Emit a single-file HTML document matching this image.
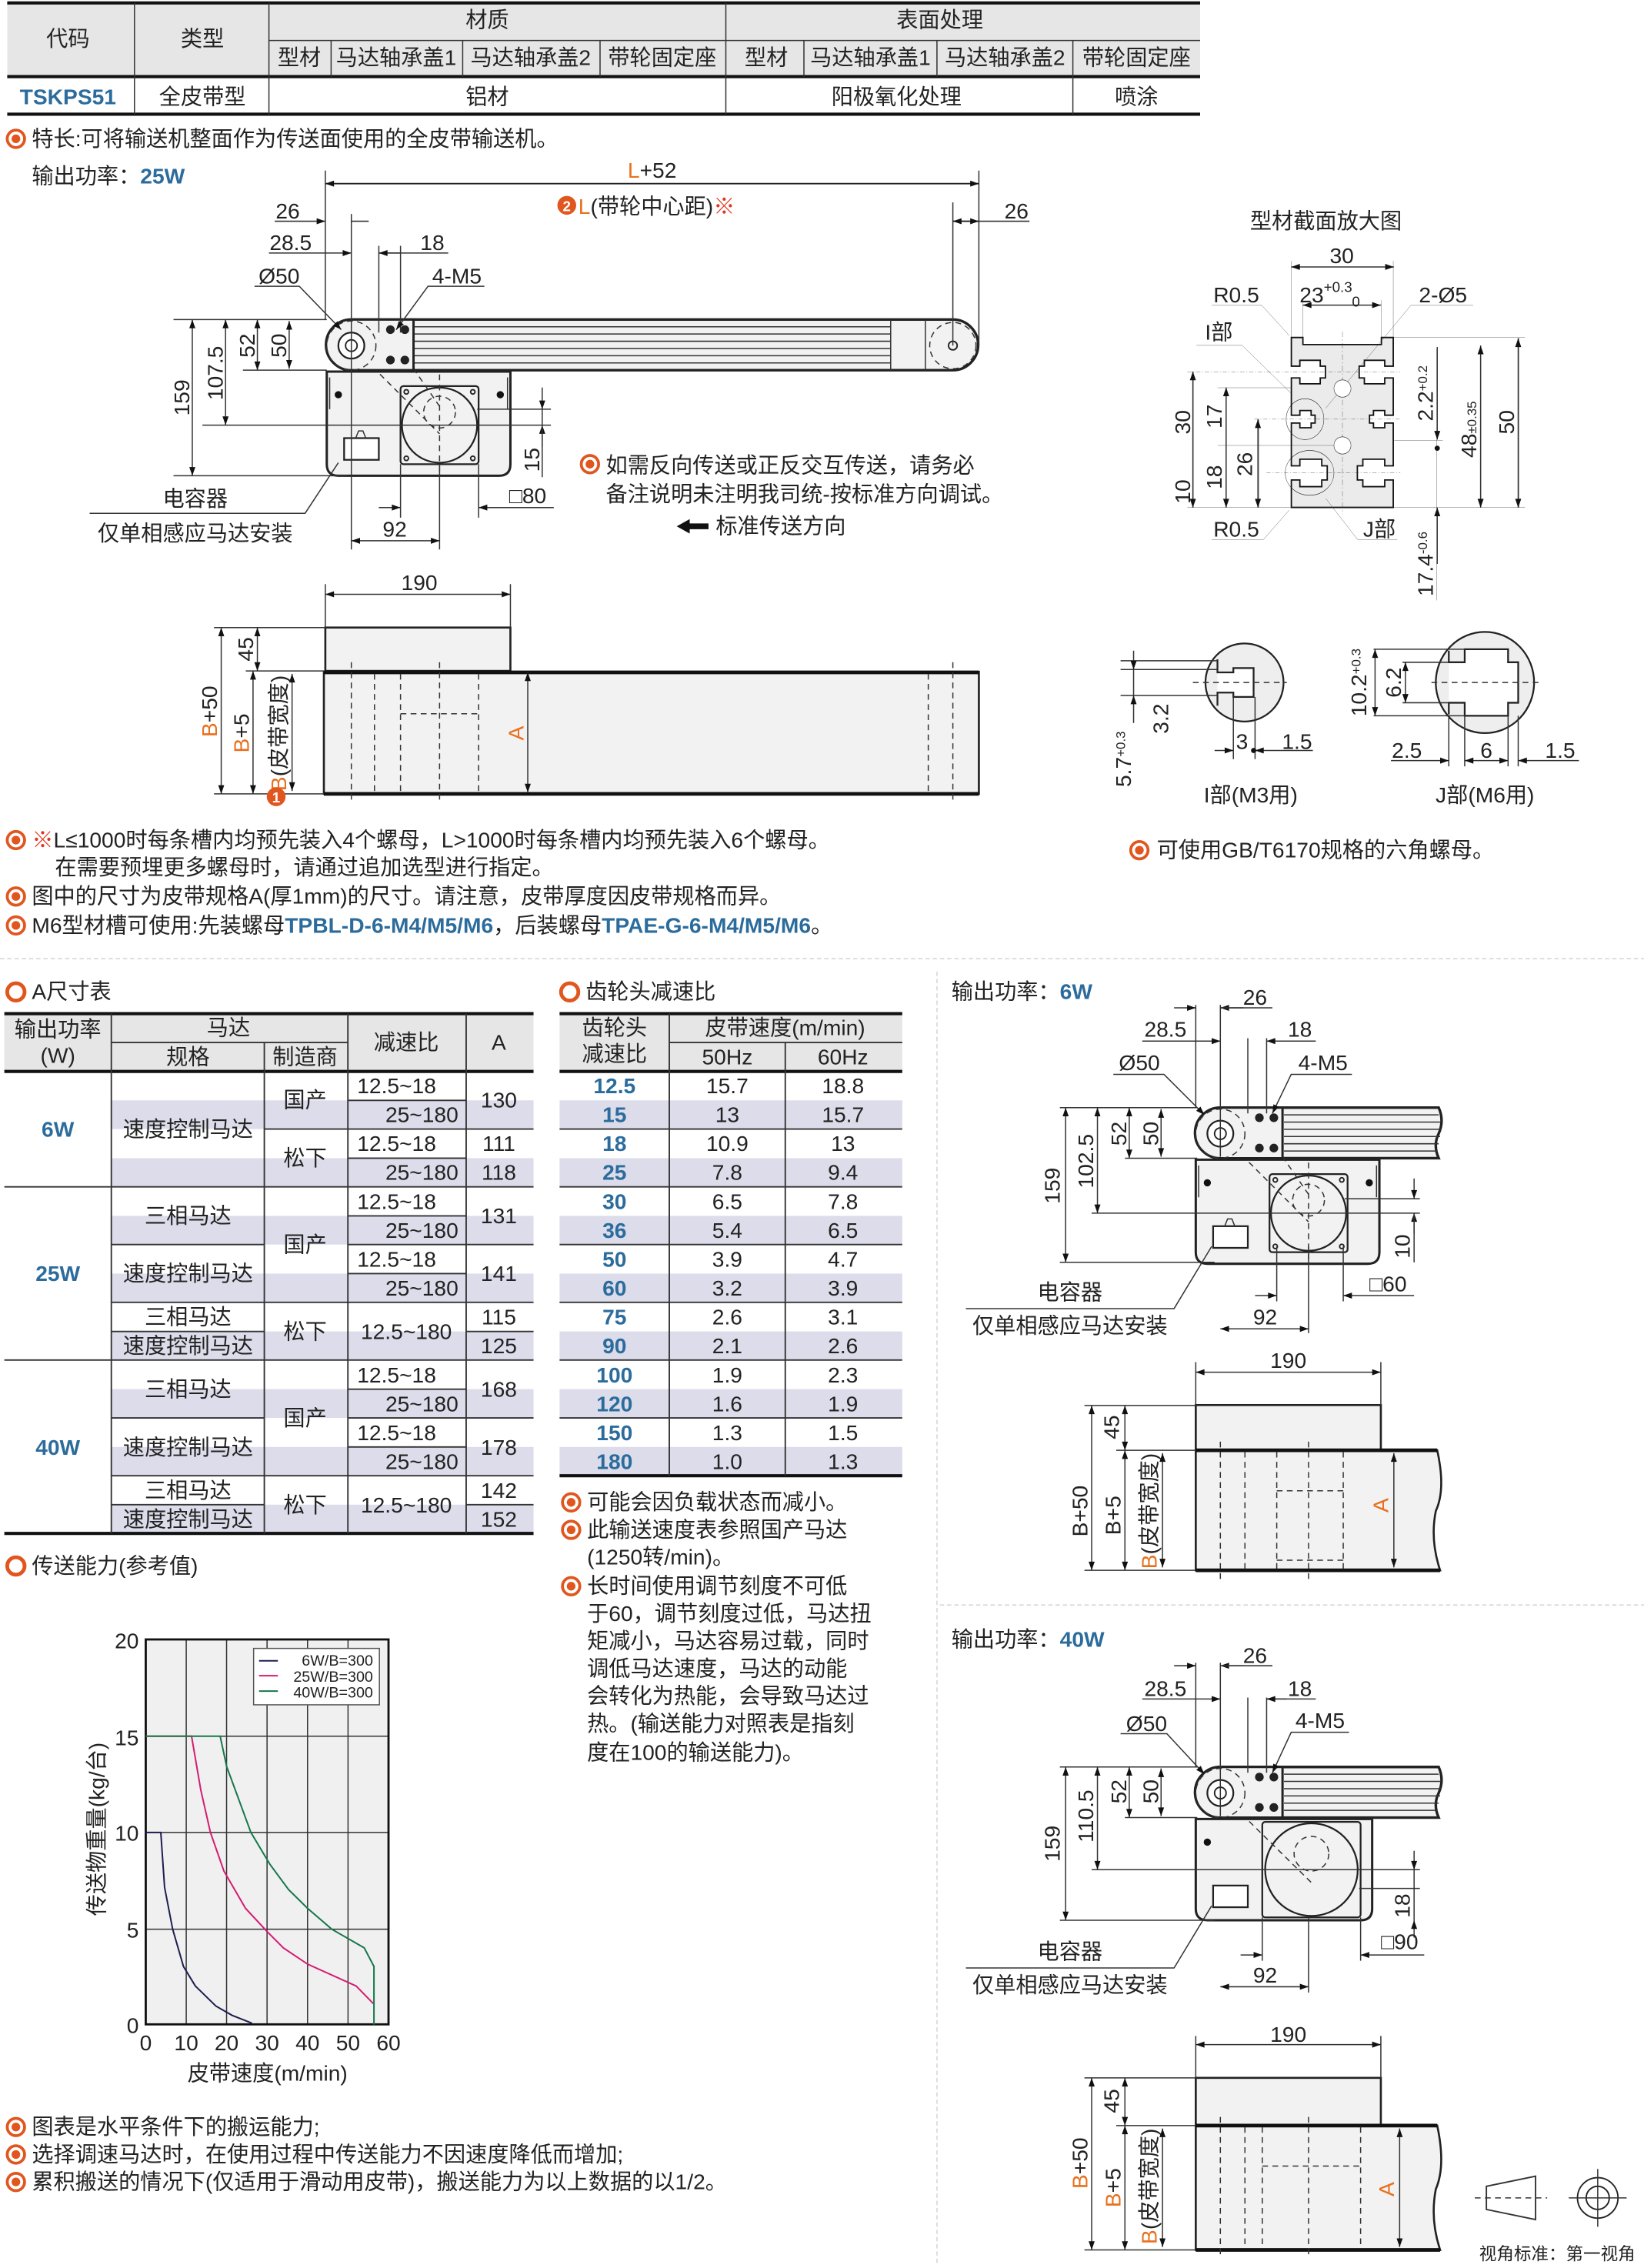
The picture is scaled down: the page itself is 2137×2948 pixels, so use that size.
<!DOCTYPE html>
<html><head><meta charset="utf-8"><style>
html,body{margin:0;padding:0;background:#fff}
svg{display:block}
text{font-family:"Liberation Sans","Noto Sans CJK SC",sans-serif;font-size:15px;fill:#222}
.b{fill:#2c6c9c;font-weight:bold}
.o{fill:#e8701e}
.c{text-anchor:middle}
.e{text-anchor:end}
.ln{stroke:#222;stroke-width:1;fill:none}
.tk{stroke:#111;stroke-width:2.2;fill:none}
.th{stroke:#333;stroke-width:0.8;fill:none}
.d{stroke:#333;stroke-width:0.8;stroke-dasharray:4 3;fill:none}
.ns{vector-effect:non-scaling-stroke}
</style></head><body>
<svg width="2137" height="2948" viewBox="0 0 1137 1568.5" preserveAspectRatio="none" xmlns="http://www.w3.org/2000/svg">
<defs>
<marker id="a" viewBox="0 0 10 10" refX="10" refY="5" markerWidth="9" markerHeight="6" orient="auto-start-reverse" markerUnits="userSpaceOnUse"><path d="M0,1.5L10,5L0,8.5z" fill="#111"/></marker>
<g id="bul"><circle r="6" fill="none" stroke="#e0561e" stroke-width="2"/><circle r="3" fill="#e0561e"/></g>
<g id="ring"><circle r="6" fill="none" stroke="#e0561e" stroke-width="2.6"/></g>
<g id="motor">
<path d="M0,36 L127,36 L127,100 Q127,108 119,108 L8,108 Q0,108 0,100 Z" fill="#f2f2f2" stroke="#222" stroke-width="1.6"/>
<line x1="2" y1="40" x2="2" y2="62" class="th"/><line x1="125" y1="40" x2="125" y2="62" class="th"/>
<circle cx="8" cy="52" r="2.5" fill="#111"/><circle cx="120" cy="52" r="2.5" fill="#111"/>
<rect x="51" y="46" width="54" height="54" rx="2" fill="#f2f2f2" stroke="#222" stroke-width="1.2"/>
<ellipse cx="78" cy="73" rx="26" ry="26" fill="#f2f2f2" stroke="#222" stroke-width="1.2"/>
<circle cx="78" cy="64" r="11" class="d"/>
<circle cx="55" cy="50" r="1.5" class="ln"/><circle cx="101" cy="50" r="1.5" class="ln"/><circle cx="55" cy="96" r="1.5" class="ln"/><circle cx="101" cy="96" r="1.5" class="ln"/>
<rect x="12" y="82" width="24" height="15" fill="#fff" stroke="#222" stroke-width="1.2"/>
<path d="M20,82 L22,77 L25,77 L27,82" class="th"/>
<line x1="17" y1="18" x2="78" y2="79" class="d"/><line x1="40" y1="5" x2="78" y2="60" class="d"/>
<line x1="78" y1="38" x2="78" y2="108" class="d"/>
</g>
<g id="head">
<path d="M17,0 L60,0 L60,35 L17,35 A17.5,17.5 0 0 1 17,0 Z" fill="#f2f2f2" stroke="#222" stroke-width="1.6"/>
<circle cx="17" cy="18" r="9" fill="#fff" stroke="#222" stroke-width="1.2"/><circle cx="17" cy="18" r="4" class="ln"/>
<circle cx="17" cy="18" r="17" class="d"/>
<circle cx="44" cy="7" r="3" fill="#222"/><circle cx="54" cy="7" r="3" fill="#222"/><circle cx="44" cy="28" r="3" fill="#222"/><circle cx="54" cy="28" r="3" fill="#222"/>
</g>
</defs>

<!-- TOP TABLE -->
<rect x="5" y="2" width="825" height="51" fill="#e6e6e6"/>
<line x1="5" y1="2" x2="830" y2="2" class="tk"/>
<line x1="5" y1="53" x2="830" y2="53" class="tk"/>
<line x1="5" y1="79" x2="830" y2="79" class="tk"/>
<line x1="186" y1="28" x2="830" y2="28" class="th"/>
<g class="th"><line x1="93" y1="2" x2="93" y2="79"/><line x1="186" y1="2" x2="186" y2="79"/><line x1="502" y1="2" x2="502" y2="79"/><line x1="742" y1="28" x2="742" y2="79"/>
<line x1="229" y1="28" x2="229" y2="53"/><line x1="320" y1="28" x2="320" y2="53"/><line x1="415" y1="28" x2="415" y2="53"/><line x1="556" y1="28" x2="556" y2="53"/><line x1="648" y1="28" x2="648" y2="53"/></g>
<text x="47" y="32" class="c">代码</text><text x="140" y="32" class="c">类型</text>
<text x="337" y="19" class="c">材质</text><text x="650" y="19" class="c">表面处理</text>
<text x="207" y="45" class="c">型材</text><text x="274" y="45" class="c">马达轴承盖1</text><text x="367" y="45" class="c">马达轴承盖2</text><text x="458" y="45" class="c">带轮固定座</text>
<text x="530" y="45" class="c">型材</text><text x="602" y="45" class="c">马达轴承盖1</text><text x="695" y="45" class="c">马达轴承盖2</text><text x="786" y="45" class="c">带轮固定座</text>
<text x="47" y="72" class="c b">TSKPS51</text><text x="140" y="72" class="c">全皮带型</text><text x="337" y="72" class="c">铝材</text><text x="620" y="72" class="c">阳极氧化处理</text><text x="786" y="72" class="c">喷涂</text>

<use href="#bul" x="11" y="96"/><text x="22" y="101">特长:可将输送机整面作为传送面使用的全皮带输送机。</text>
<text x="22" y="127">输出功率：<tspan class="b">25W</tspan></text>

<!-- 25W front view -->
<path d="M243,221 L659,221 A17.5,17.5 0 0 1 659,256 L243,256 A17.5,17.5 0 0 1 243,221 Z" fill="#f2f2f2" stroke="#222" stroke-width="1.8"/>
<g class="th"><line x1="286" y1="226" x2="616" y2="226"/><line x1="286" y1="231" x2="616" y2="231"/><line x1="286" y1="236" x2="616" y2="236"/><line x1="286" y1="241" x2="616" y2="241"/><line x1="286" y1="246" x2="616" y2="246"/><line x1="286" y1="251" x2="616" y2="251"/>
<line x1="616" y1="221" x2="616" y2="256"/><line x1="640" y1="221" x2="640" y2="256"/><line x1="286" y1="221" x2="286" y2="256"/></g>
<circle cx="659" cy="239" r="16" class="d"/><circle cx="659" cy="239" r="3" class="ln"/>
<use href="#motor" x="226" y="221"/><use href="#head" x="226" y="221"/>
<line x1="225" y1="127" x2="677" y2="127" class="ln" marker-start="url(#a)" marker-end="url(#a)"/>
<text x="451" y="123" class="c"><tspan class="o">L</tspan>+52</text>
<circle cx="392" cy="142" r="6.5" fill="#e0561e"/><text x="392" y="146" class="c" style="font-size:10px;fill:#fff;font-weight:bold">2</text>
<text x="400" y="148"><tspan class="o">L</tspan>(带轮中心距)<tspan style="fill:#e0361e">※</tspan></text>
<g class="th"><line x1="225" y1="118" x2="225" y2="221"/><line x1="677" y1="118" x2="677" y2="239"/><line x1="659" y1="140" x2="659" y2="239"/><line x1="243" y1="148" x2="243" y2="380"/><line x1="262" y1="170" x2="262" y2="230"/><line x1="277" y1="170" x2="277" y2="230"/></g>
<line x1="659" y1="153" x2="677" y2="153" class="ln" marker-start="url(#a)" marker-end="url(#a)"/><line x1="677" y1="153" x2="712" y2="153" class="th"/>
<text x="703" y="151" class="c">26</text>
<line x1="190" y1="153" x2="225" y2="153" class="th" marker-end="url(#a)"/><line x1="243" y1="153" x2="255" y2="153" class="th"/><text x="199" y="151" class="c">26</text>
<line x1="186" y1="175" x2="243" y2="175" class="th" marker-end="url(#a)"/><text x="201" y="173" class="c">28.5</text>
<line x1="262" y1="175" x2="310" y2="175" class="th"/><path d="M262,175 L277,175" class="th" marker-start="url(#a)"/><text x="299" y="173" class="c">18</text>
<text x="193" y="196" class="c">Ø50</text><path d="M176,198 L207,198 L236,228" class="th" marker-end="url(#a)"/>
<text x="316" y="196" class="c">4-M5</text><path d="M335,198 L296,198 L274,228" class="th" marker-end="url(#a)"/>
<g class="th"><line x1="120" y1="221" x2="226" y2="221"/><line x1="168" y1="256" x2="226" y2="256"/><line x1="140" y1="294" x2="381" y2="294"/><line x1="120" y1="329" x2="240" y2="329"/><line x1="330" y1="283" x2="381" y2="283"/></g>
<line x1="133" y1="221" x2="133" y2="329" class="th" marker-start="url(#a)" marker-end="url(#a)"/><text transform="translate(131,275) rotate(-90)" class="c">159</text>
<line x1="156" y1="221" x2="156" y2="294" class="th" marker-start="url(#a)" marker-end="url(#a)"/><text transform="translate(154,258) rotate(-90)" class="c">107.5</text>
<line x1="178" y1="221" x2="178" y2="256" class="th" marker-start="url(#a)" marker-end="url(#a)"/><text transform="translate(176,239) rotate(-90)" class="c">52</text>
<line x1="200" y1="222" x2="200" y2="255" class="th" marker-start="url(#a)" marker-end="url(#a)"/><text transform="translate(198,239) rotate(-90)" class="c">50</text>
<line x1="375" y1="268" x2="375" y2="283" class="th" marker-end="url(#a)"/><line x1="375" y1="309" x2="375" y2="294" class="th" marker-end="url(#a)"/><line x1="375" y1="283" x2="375" y2="330" class="th"/>
<text transform="translate(373,318) rotate(-90)" class="c">15</text>
<g class="th"><line x1="277" y1="321" x2="277" y2="358"/><line x1="331" y1="321" x2="331" y2="358"/><line x1="304" y1="321" x2="304" y2="380"/></g>
<line x1="262" y1="351" x2="277" y2="351" class="th" marker-end="url(#a)"/><line x1="383" y1="351" x2="331" y2="351" class="th" marker-end="url(#a)"/>
<text x="365" y="348" class="c">□80</text>
<line x1="243" y1="374" x2="304" y2="374" class="th" marker-start="url(#a)" marker-end="url(#a)"/><text x="273" y="371" class="c">92</text>
<text x="135" y="350" class="c">电容器</text><text x="135" y="374" class="c">仅单相感应马达安装</text>
<path d="M62,355 L211,355 L234,320" class="th"/>
<use href="#bul" x="408" y="321"/><text x="419" y="327">如需反向传送或正反交互传送，请务必</text>
<text x="419" y="347">备注说明未注明我司统-按标准方向调试。</text>
<path d="M468,364 L477,359 L477,362 L490,362 L490,366 L477,366 L477,369 Z" fill="#111"/><text x="495" y="369">标准传送方向</text>

<!-- 25W side view -->
<rect x="225" y="434" width="128" height="30" fill="#f2f2f2" stroke="#222" stroke-width="1.4"/>
<rect x="224" y="464.6" width="453" height="84.4" fill="#f2f2f2" stroke="#222" stroke-width="1.4"/>
<line x1="224" y1="465" x2="677" y2="465" stroke="#111" stroke-width="2.5"/><line x1="224" y1="549" x2="677" y2="549" stroke="#111" stroke-width="2.5"/>
<g class="d"><line x1="243" y1="458" x2="243" y2="555"/><line x1="259" y1="466" x2="259" y2="548"/><line x1="277" y1="466" x2="277" y2="548"/><line x1="304" y1="458" x2="304" y2="555"/><line x1="331" y1="466" x2="331" y2="548"/><line x1="642" y1="466" x2="642" y2="548"/><line x1="659" y1="458" x2="659" y2="555"/><line x1="277" y1="493.6" x2="331" y2="493.6"/></g>
<g class="th"><line x1="225" y1="404" x2="225" y2="434"/><line x1="353" y1="404" x2="353" y2="434"/><line x1="148" y1="434" x2="225" y2="434"/><line x1="170" y1="464" x2="224" y2="464"/><line x1="148" y1="549" x2="224" y2="549"/></g>
<line x1="225" y1="411" x2="353" y2="411" class="th" marker-start="url(#a)" marker-end="url(#a)"/><text x="290" y="408" class="c">190</text>
<line x1="178" y1="434" x2="178" y2="464" class="th" marker-start="url(#a)" marker-end="url(#a)"/><text transform="translate(175,449) rotate(-90)" class="c">45</text>
<line x1="153" y1="434" x2="153" y2="549" class="th" marker-start="url(#a)" marker-end="url(#a)"/><text transform="translate(150,492) rotate(-90)" class="c"><tspan class="o">B</tspan>+50</text>
<line x1="175" y1="464" x2="175" y2="549" class="th" marker-start="url(#a)" marker-end="url(#a)"/><text transform="translate(172,507) rotate(-90)" class="c"><tspan class="o">B</tspan>+5</text>
<line x1="202" y1="466" x2="202" y2="547" class="th" marker-start="url(#a)" marker-end="url(#a)"/><text transform="translate(198,507) rotate(-90)" class="c"><tspan class="o">B</tspan>(皮带宽度)</text>
<circle cx="191" cy="551" r="6.5" fill="#e0561e"/><text x="191" y="555" class="c" style="font-size:10px;fill:#fff;font-weight:bold">1</text>
<line x1="365" y1="465" x2="365" y2="548" class="th" marker-start="url(#a)" marker-end="url(#a)"/><text transform="translate(362,507) rotate(-90)" class="c o">A</text>

<!-- Profile section -->
<text x="917" y="158" class="c">型材截面放大图</text>
<g transform="translate(798,133) scale(0.2104,0.2714)">
<path class="ns" fill="#ebebeb" stroke="#111" stroke-width="1.8" d="M452,370 L490,370 L490,388 L748,388 L748,370 L787,370 L787,443 L759,443 L759,428 L692,428 L692,443 L675,443 L675,473 L692,473 L692,488 L759,488 L759,473 L787,473 L787,568 L759,568 L759,556 L722,556 L722,568 L709,568 L709,588 L722,588 L722,600 L759,600 L759,588 L787,588 L787,697 L759,697 L759,680 L687,680 L687,697 L669,697 L669,733 L687,733 L687,750 L759,750 L759,733 L787,733 L787,803 L452,803 L452,733 L480,733 L480,750 L552,750 L552,733 L570,733 L570,697 L552,697 L552,680 L480,680 L480,697 L452,697 L452,588 L480,588 L480,600 L517,600 L517,588 L530,588 L530,568 L517,568 L517,556 L480,556 L480,568 L452,568 L452,473 L480,473 L480,488 L547,488 L547,473 L564,473 L564,443 L547,443 L547,428 L480,428 L480,443 L452,443 Z"/>
<g class="ns" stroke="#333" stroke-width="0.8" fill="none">
<line x1="620" y1="355" x2="620" y2="820" stroke-dasharray="14 6 3 6"/>
<line x1="110" y1="458" x2="810" y2="458" stroke-dasharray="14 6 3 6"/><line x1="330" y1="578" x2="810" y2="578" stroke-dasharray="14 6 3 6"/><line x1="370" y1="715" x2="810" y2="715" stroke-dasharray="14 6 3 6"/>
<line x1="452" y1="175" x2="452" y2="370"/><line x1="787" y1="175" x2="787" y2="370"/><line x1="490" y1="275" x2="490" y2="370"/><line x1="748" y1="275" x2="748" y2="370"/>
<line x1="110" y1="803" x2="1220" y2="803"/><line x1="787" y1="370" x2="1220" y2="370"/><line x1="210" y1="498" x2="452" y2="498"/><line x1="210" y1="645" x2="600" y2="645"/><line x1="790" y1="632" x2="950" y2="632"/>
<line x1="1200" y1="370" x2="1200" y2="803"/><line x1="1075" y1="390" x2="1075" y2="803"/><line x1="930" y1="400" x2="930" y2="1040"/>
<line x1="130" y1="458" x2="130" y2="803"/><line x1="237" y1="498" x2="237" y2="803"/><line x1="345" y1="578" x2="345" y2="803"/>
<path d="M190,288 L355,288 L445,365"/><path d="M140,390 L290,390 L455,515"/><path d="M1050,288 L845,288 L565,550"/><path d="M190,885 L360,885 L445,810"/><path d="M800,885 L670,885 L565,780"/>
<line x1="452" y1="190" x2="787" y2="190"/><line x1="490" y1="287" x2="748" y2="287"/>
</g>
<g class="ns" stroke="#111" stroke-width="1.2" fill="none">
<ellipse cx="497" cy="578" rx="62" ry="52"/><ellipse cx="512" cy="715" rx="80" ry="57"/>
<ellipse cx="620" cy="500" rx="28" ry="22" fill="#fff"/><ellipse cx="620" cy="645" rx="28" ry="22" fill="#fff"/>
</g>
</g>
<g class="th">
<path d="M893,184.6 L964,184.6" marker-start="url(#a)" marker-end="url(#a)"/>
<path d="M901,211 L955,211" marker-start="url(#a)" marker-end="url(#a)"/>
<path d="M1050,234 L1050,351" marker-start="url(#a)" marker-end="url(#a)"/>
<path d="M1024,239 L1024,351" marker-start="url(#a)" marker-end="url(#a)"/>
<path d="M994,240 L994,304" marker-end="url(#a)"/><path d="M994,390 L994,351" marker-end="url(#a)"/>
<path d="M825,257 L825,351" marker-start="url(#a)" marker-end="url(#a)"/>
<path d="M848,268 L848,351" marker-start="url(#a)" marker-end="url(#a)"/>
<path d="M870,290 L870,351" marker-start="url(#a)" marker-end="url(#a)"/>
</g>
<circle cx="994" cy="310" r="1.8" fill="#111"/>
<text x="928" y="182" class="c">30</text>
<text x="917" y="209" class="c">23<tspan dy="-7" style="font-size:10px">+0.3</tspan></text><text x="935" y="212" style="font-size:10px">0</text>
<text x="855" y="209" class="c">R0.5</text><text x="855" y="371" class="c">R0.5</text>
<text x="843" y="235" class="c">I部</text><text x="954" y="371" class="c">J部</text>
<text x="998" y="209" class="c">2-Ø5</text>
<text transform="translate(823,292) rotate(-90)" class="c">30</text>
<text transform="translate(845,288) rotate(-90)" class="c">17</text>
<text transform="translate(866,321) rotate(-90)" class="c">26</text>
<text transform="translate(845,330) rotate(-90)" class="c">18</text>
<text transform="translate(823,340) rotate(-90)" class="c">10</text>
<text transform="translate(991,272) rotate(-90)" class="c">2.2<tspan dy="-4" style="font-size:9px">+0.2</tspan></text>
<text transform="translate(1021,297) rotate(-90)" class="c">48<tspan style="font-size:9px">±0.35</tspan></text>
<text transform="translate(1047,292) rotate(-90)" class="c">50</text>
<text transform="translate(991,390) rotate(-90)" class="c">17.4<tspan dy="-4" style="font-size:9px">-0.6</tspan></text>

<!-- I/J details -->
<ellipse cx="860.7" cy="472" rx="27" ry="27" fill="#eeeeee" stroke="#222" stroke-width="1.2"/>
<path d="M842,456 L842,465 L853,465 L853,462 L867,462 L867,482 L853,482 L853,479 L842,479 L842,488" fill="#fff" stroke="#222" stroke-width="1.2"/>
<line x1="825" y1="472" x2="890" y2="472" class="d"/>
<g class="th"><line x1="775" y1="457" x2="842" y2="457"/><line x1="775" y1="463" x2="842" y2="463"/><line x1="775" y1="481" x2="842" y2="481"/><line x1="784" y1="450" x2="784" y2="463" marker-end="url(#a)"/><line x1="784" y1="500" x2="784" y2="481" marker-end="url(#a)"/><line x1="784" y1="463" x2="784" y2="481"/>
<line x1="853" y1="482" x2="853" y2="525"/><line x1="868" y1="482" x2="868" y2="525"/><line x1="840" y1="519" x2="853" y2="519" marker-end="url(#a)"/><line x1="908" y1="519" x2="868" y2="519" marker-end="url(#a)"/></g>
<circle cx="867" cy="519" r="1.8" fill="#111"/>
<text transform="translate(782,525) rotate(-90)" class="c">5.7<tspan dy="-4" style="font-size:9px">+0.3</tspan></text>
<text transform="translate(808,497) rotate(-90)" class="c">3.2</text>
<text x="859" y="518" class="c">3</text><text x="897" y="518" class="c">1.5</text>
<text x="865" y="555" class="c">I部(M3用)</text>
<ellipse cx="1027" cy="472" rx="34" ry="35" fill="#eeeeee" stroke="#222" stroke-width="1.2"/>
<path d="M1002,450 L1002,458 L1013,458 L1013,449 L1043,449 L1043,458 L1050,458 L1050,486 L1043,486 L1043,495 L1013,495 L1013,486 L1002,486 L1002,494" fill="#fff" stroke="#222" stroke-width="1.2"/>
<line x1="990" y1="472" x2="1066" y2="472" class="d"/>
<g class="th"><line x1="950" y1="449" x2="1013" y2="449"/><line x1="950" y1="495" x2="1013" y2="495"/><line x1="970" y1="458" x2="1002" y2="458"/><line x1="970" y1="486" x2="1002" y2="486"/>
<line x1="951" y1="449" x2="951" y2="495" marker-start="url(#a)" marker-end="url(#a)"/><line x1="972" y1="458" x2="972" y2="486" marker-start="url(#a)" marker-end="url(#a)"/>
<line x1="1002" y1="495" x2="1002" y2="530"/><line x1="1013" y1="495" x2="1013" y2="530"/><line x1="1043" y1="495" x2="1043" y2="530"/><line x1="1050" y1="495" x2="1050" y2="530"/>
<line x1="962" y1="526" x2="1002" y2="526" marker-end="url(#a)"/><line x1="1013" y1="526" x2="1043" y2="526" marker-start="url(#a)" marker-end="url(#a)"/><line x1="1092" y1="526" x2="1050" y2="526" marker-end="url(#a)"/></g>
<text transform="translate(945,472) rotate(-90)" class="c">10.2<tspan dy="-4" style="font-size:9px">+0.3</tspan></text>
<text transform="translate(969,472) rotate(-90)" class="c">6.2</text>
<text x="973" y="524" class="c">2.5</text><text x="1028" y="524" class="c">6</text><text x="1079" y="524" class="c">1.5</text>
<text x="1027" y="555" class="c">J部(M6用)</text>

<!-- notes -->
<use href="#bul" x="11" y="581"/><text x="22" y="586"><tspan style="fill:#e0361e">※</tspan>L≤1000时每条槽内均预先装入4个螺母，L&gt;1000时每条槽内均预先装入6个螺母。</text>
<text x="38" y="605">在需要预埋更多螺母时，请通过追加选型进行指定。</text>
<use href="#bul" x="11" y="620"/><text x="22" y="625">图中的尺寸为皮带规格A(厚1mm)的尺寸。请注意，皮带厚度因皮带规格而异。</text>
<use href="#bul" x="11" y="640"/><text x="22" y="645">M6型材槽可使用:先装螺母<tspan class="b">TPBL-D-6-M4/M5/M6</tspan>，后装螺母<tspan class="b">TPAE-G-6-M4/M5/M6</tspan>。</text>
<use href="#bul" x="788" y="588"/><text x="800" y="593">可使用GB/T6170规格的六角螺母。</text>

<line x1="0" y1="663" x2="1137" y2="663" stroke="#ddd" stroke-width="1" stroke-dasharray="3 2"/>
<line x1="648" y1="672" x2="648" y2="1565" stroke="#ddd" stroke-width="1" stroke-dasharray="3 2"/>
<line x1="650" y1="1110" x2="1137" y2="1110" stroke="#ddd" stroke-width="1" stroke-dasharray="3 2"/>

<!-- A table -->
<use href="#ring" x="11" y="686"/><text x="22" y="691">A尺寸表</text>
<use href="#ring" x="394" y="686"/><text x="405" y="691">齿轮头减速比</text>
<rect x="3" y="701" width="366" height="40" fill="#e6e6e6"/>
<rect x="387" y="701" width="237" height="40" fill="#e6e6e6"/>
<g fill="#dcdcea">
<rect x="77" y="761" width="292" height="19.8"/><rect x="77" y="801" width="292" height="19.8"/><rect x="77" y="840.9" width="292" height="19.8"/><rect x="77" y="880.8" width="292" height="19.9"/><rect x="77" y="920.8" width="292" height="19.8"/><rect x="77" y="960.7" width="292" height="19.9"/><rect x="77" y="1000.7" width="292" height="19.9"/><rect x="77" y="1040.6" width="292" height="19.9"/>
<rect x="387" y="761" width="237" height="19.8"/><rect x="387" y="801" width="237" height="19.8"/><rect x="387" y="840.9" width="237" height="19.8"/><rect x="387" y="880.8" width="237" height="19.9"/><rect x="387" y="920.8" width="237" height="19.8"/><rect x="387" y="960.7" width="237" height="19.9"/><rect x="387" y="1000.7" width="237" height="19.9"/>
</g>
<g class="tk"><line x1="3" y1="701" x2="369" y2="701"/><line x1="3" y1="741" x2="369" y2="741"/><line x1="3" y1="1060.5" x2="369" y2="1060.5"/>
<line x1="387" y1="701" x2="624" y2="701"/><line x1="387" y1="741" x2="624" y2="741"/><line x1="387" y1="1020.6" x2="624" y2="1020.6"/></g>
<g stroke="#333" stroke-width="1" fill="none">
<line x1="3" y1="820.8" x2="369" y2="820.8"/><line x1="3" y1="940.6" x2="369" y2="940.6"/>
<line x1="77" y1="721" x2="240.6" y2="721"/><line x1="462.9" y1="721" x2="624" y2="721"/>
<line x1="77" y1="701" x2="77" y2="1060.5"/><line x1="182.8" y1="721" x2="182.8" y2="1060.5"/><line x1="240.6" y1="701" x2="240.6" y2="1060.5"/><line x1="322.4" y1="701" x2="322.4" y2="1060.5"/>
<line x1="462.9" y1="701" x2="462.9" y2="1020.6"/><line x1="543.1" y1="721" x2="543.1" y2="1020.6"/>
<path d="M240.6,761H322.4M240.6,780.8H369M240.6,801H322.4M240.6,840.9H322.4M240.6,860.7H369M240.6,880.8H322.4M240.6,900.7H369M322.4,920.8H369M240.6,960.7H322.4M240.6,980.6H369M240.6,1000.7H322.4M240.6,1020.6H369M322.4,1040.6H369"/>
<path d="M182.8,780.8H240.6M77,860.7H182.8M77,900.7H240.6M77,920.8H182.8M77,980.6H182.8M77,1020.6H240.6M77,1040.6H182.8"/>
<path d="M387,780.8H624M387,820.8H624M387,860.7H624M387,900.7H624M387,940.6H624M387,980.6H624"/>
</g>
<text x="40" y="717" class="c">输出功率</text><text x="40" y="735" class="c">(W)</text>
<text x="158" y="716" class="c">马达</text><text x="130" y="736" class="c">规格</text><text x="211" y="736" class="c">制造商</text>
<text x="281" y="726" class="c">减速比</text><text x="345" y="726" class="c">A</text>
<text x="40" y="786" class="c b">6W</text><text x="40" y="886" class="c b">25W</text><text x="40" y="1006" class="c b">40W</text>
<text x="130" y="786" class="c">速度控制马达</text>
<text x="130" y="846" class="c">三相马达</text><text x="130" y="886" class="c">速度控制马达</text><text x="130" y="916" class="c">三相马达</text><text x="130" y="936" class="c">速度控制马达</text>
<text x="130" y="966" class="c">三相马达</text><text x="130" y="1006" class="c">速度控制马达</text><text x="130" y="1036" class="c">三相马达</text><text x="130" y="1056" class="c">速度控制马达</text>
<text x="211" y="766" class="c">国产</text><text x="211" y="806" class="c">松下</text><text x="211" y="866" class="c">国产</text><text x="211" y="926" class="c">松下</text><text x="211" y="986" class="c">国产</text><text x="211" y="1046" class="c">松下</text>
<text x="247" y="756">12.5~18</text><text x="317" y="776" class="e">25~180</text><text x="247" y="796">12.5~18</text><text x="317" y="816" class="e">25~180</text>
<text x="247" y="836">12.5~18</text><text x="317" y="856" class="e">25~180</text><text x="247" y="876">12.5~18</text><text x="317" y="896" class="e">25~180</text><text x="281" y="926" class="c">12.5~180</text>
<text x="247" y="956">12.5~18</text><text x="317" y="976" class="e">25~180</text><text x="247" y="996">12.5~18</text><text x="317" y="1016" class="e">25~180</text><text x="281" y="1046" class="c">12.5~180</text>
<text x="345" y="766" class="c">130</text><text x="345" y="796" class="c">111</text><text x="345" y="816" class="c">118</text>
<text x="345" y="846" class="c">131</text><text x="345" y="886" class="c">141</text><text x="345" y="916" class="c">115</text><text x="345" y="936" class="c">125</text>
<text x="345" y="966" class="c">168</text><text x="345" y="1006" class="c">178</text><text x="345" y="1036" class="c">142</text><text x="345" y="1056" class="c">152</text>

<!-- gear table -->
<text x="425" y="716" class="c">齿轮头</text><text x="425" y="734" class="c">减速比</text>
<text x="543" y="716" class="c">皮带速度(m/min)</text><text x="503" y="736" class="c">50Hz</text><text x="583" y="736" class="c">60Hz</text>
<text x="425" y="756" class="c b">12.5</text><text x="503" y="756" class="c">15.7</text><text x="583" y="756" class="c">18.8</text>
<text x="425" y="776" class="c b">15</text><text x="503" y="776" class="c">13</text><text x="583" y="776" class="c">15.7</text>
<text x="425" y="796" class="c b">18</text><text x="503" y="796" class="c">10.9</text><text x="583" y="796" class="c">13</text>
<text x="425" y="816" class="c b">25</text><text x="503" y="816" class="c">7.8</text><text x="583" y="816" class="c">9.4</text>
<text x="425" y="836" class="c b">30</text><text x="503" y="836" class="c">6.5</text><text x="583" y="836" class="c">7.8</text>
<text x="425" y="856" class="c b">36</text><text x="503" y="856" class="c">5.4</text><text x="583" y="856" class="c">6.5</text>
<text x="425" y="876" class="c b">50</text><text x="503" y="876" class="c">3.9</text><text x="583" y="876" class="c">4.7</text>
<text x="425" y="896" class="c b">60</text><text x="503" y="896" class="c">3.2</text><text x="583" y="896" class="c">3.9</text>
<text x="425" y="916" class="c b">75</text><text x="503" y="916" class="c">2.6</text><text x="583" y="916" class="c">3.1</text>
<text x="425" y="936" class="c b">90</text><text x="503" y="936" class="c">2.1</text><text x="583" y="936" class="c">2.6</text>
<text x="425" y="956" class="c b">100</text><text x="503" y="956" class="c">1.9</text><text x="583" y="956" class="c">2.3</text>
<text x="425" y="976" class="c b">120</text><text x="503" y="976" class="c">1.6</text><text x="583" y="976" class="c">1.9</text>
<text x="425" y="996" class="c b">150</text><text x="503" y="996" class="c">1.3</text><text x="583" y="996" class="c">1.5</text>
<text x="425" y="1016" class="c b">180</text><text x="503" y="1016" class="c">1.0</text><text x="583" y="1016" class="c">1.3</text>
<use href="#bul" x="395" y="1039"/><text x="406" y="1044">可能会因负载状态而减小。</text>
<use href="#bul" x="395" y="1058"/><text x="406" y="1063">此输送速度表参照国产马达</text>
<text x="406" y="1082">(1250转/min)。</text>
<use href="#bul" x="395" y="1097"/><text x="406" y="1102">长时间使用调节刻度不可低</text>
<text x="406" y="1121">于60，调节刻度过低，马达扭</text>
<text x="406" y="1140">矩减小，马达容易过载，同时</text>
<text x="406" y="1159">调低马达速度，马达的动能</text>
<text x="406" y="1178">会转化为热能，会导致马达过</text>
<text x="406" y="1197">热。(输送能力对照表是指刻</text>
<text x="406" y="1217">度在100的输送能力)。</text>

<!-- chart -->
<use href="#ring" x="11" y="1083"/><text x="22" y="1088">传送能力(参考值)</text>
<rect x="100.8" y="1133.8" width="167.9" height="266.2" fill="#f0f0f0"/>
<g stroke="#333" stroke-width="0.8"><line x1="128.8" y1="1134" x2="128.8" y2="1400"/><line x1="156.7" y1="1134" x2="156.7" y2="1400"/><line x1="184.7" y1="1134" x2="184.7" y2="1400"/><line x1="212.7" y1="1134" x2="212.7" y2="1400"/><line x1="240.7" y1="1134" x2="240.7" y2="1400"/>
<line x1="101" y1="1200.7" x2="268.7" y2="1200.7"/><line x1="101" y1="1267.3" x2="268.7" y2="1267.3"/><line x1="101" y1="1334.2" x2="268.7" y2="1334.2"/></g>
<rect x="100.8" y="1133.8" width="167.9" height="266.2" fill="none" stroke="#111" stroke-width="1.5"/>
<rect x="175.4" y="1140" width="87" height="39" fill="#fff" stroke="#555" stroke-width="0.8"/>
<g transform="translate(0,1064) scale(0.3732,0.3217)" fill="none" stroke-width="2">
<path class="ns" stroke="#1e1e50" d="M270,632 L298,632 L305,750 L320,840 L340,920 L362,962 L400,1005 L430,1025 L467,1042"/>
<path class="ns" stroke="#d41c72" d="M270,425 L355,425 L372,540 L390,632 L415,715 L455,795 L495,845 L525,880 L570,915 L660,962 L692,1000"/>
<path class="ns" stroke="#16784a" d="M270,425 L408,425 L420,490 L465,632 L500,700 L535,755 L570,795 L615,840 L675,880 L693,920 L693,1045"/>
<path class="ns" stroke="#1e1e50" d="M480,263 L515,263"/><path class="ns" stroke="#d41c72" d="M480,295 L515,295"/><path class="ns" stroke="#16784a" d="M480,328 L515,328"/>
</g>
<text x="258" y="1152" class="e" style="font-size:10.5px">6W/B=300</text><text x="258" y="1163" class="e" style="font-size:10.5px">25W/B=300</text><text x="258" y="1174" class="e" style="font-size:10.5px">40W/B=300</text>
<text x="96" y="1140" class="e">20</text><text x="96" y="1207" class="e">15</text><text x="96" y="1273" class="e">10</text><text x="96" y="1340" class="e">5</text><text x="96" y="1406" class="e">0</text>
<text x="100.8" y="1418" class="c">0</text><text x="128.8" y="1418" class="c">10</text><text x="156.7" y="1418" class="c">20</text><text x="184.7" y="1418" class="c">30</text><text x="212.7" y="1418" class="c">40</text><text x="240.7" y="1418" class="c">50</text><text x="268.7" y="1418" class="c">60</text>
<text x="185" y="1439" class="c">皮带速度(m/min)</text>
<text transform="translate(72,1265) rotate(-90)" class="c">传送物重量(kg/台)</text>
<use href="#bul" x="11" y="1471"/><text x="22" y="1476">图表是水平条件下的搬运能力;</text>
<use href="#bul" x="11" y="1490"/><text x="22" y="1495">选择调速马达时，在使用过程中传送能力不因速度降低而增加;</text>
<use href="#bul" x="11" y="1509"/><text x="22" y="1514">累积搬送的情况下(仅适用于滑动用皮带)，搬送能力为以上数据的以1/2。</text>

<!-- 6W -->
<text x="658" y="691">输出功率：<tspan class="b">6W</tspan></text>
<path d="M844,766 L995,766 Q999,775 995,784 Q991,792 995,801 L844,801 A17.5,17.5 0 0 1 844,766 Z" fill="#f2f2f2" stroke="#222" stroke-width="1.8"/>
<g class="th"><line x1="888" y1="771" x2="995" y2="771"/><line x1="888" y1="776" x2="996" y2="776"/><line x1="888" y1="781" x2="997" y2="781"/><line x1="888" y1="786" x2="996" y2="786"/><line x1="888" y1="791" x2="995" y2="791"/><line x1="888" y1="796" x2="994" y2="796"/></g>
<use href="#motor" x="827" y="766"/><use href="#head" x="827" y="766"/>
<g class="th"><line x1="827" y1="695" x2="827" y2="766"/><line x1="844" y1="695" x2="844" y2="800"/><line x1="863" y1="718" x2="863" y2="770"/><line x1="876" y1="718" x2="876" y2="770"/>
<line x1="733" y1="766" x2="828" y2="766"/><line x1="778" y1="801" x2="828" y2="801"/><line x1="755" y1="839" x2="982" y2="839"/><line x1="733" y1="873" x2="840" y2="873"/><line x1="930" y1="829" x2="982" y2="829"/>
<line x1="883" y1="862" x2="883" y2="900"/><line x1="929" y1="862" x2="929" y2="900"/><line x1="905" y1="862" x2="905" y2="922"/></g>
<line x1="812" y1="697" x2="827" y2="697" class="th" marker-end="url(#a)"/><line x1="860" y1="697" x2="844" y2="697" class="th" marker-end="url(#a)"/><line x1="844" y1="697" x2="880" y2="697" class="th"/><text x="868" y="695" class="c">26</text>
<line x1="790" y1="720" x2="844" y2="720" class="th" marker-end="url(#a)"/><text x="806" y="717" class="c">28.5</text>
<line x1="876" y1="720" x2="910" y2="720" class="th"/><line x1="890" y1="720" x2="876" y2="720" class="th" marker-end="url(#a)"/><text x="899" y="717" class="c">18</text>
<text x="788" y="740" class="c">Ø50</text><path d="M770,743 L805,743 L833,771" class="th" marker-end="url(#a)"/>
<text x="915" y="740" class="c">4-M5</text><path d="M935,743 L893,743 L880,770" class="th" marker-end="url(#a)"/>
<line x1="737" y1="766" x2="737" y2="873" class="th" marker-start="url(#a)" marker-end="url(#a)"/><text transform="translate(733,820) rotate(-90)" class="c">159</text>
<line x1="759" y1="766" x2="759" y2="839" class="th" marker-start="url(#a)" marker-end="url(#a)"/><text transform="translate(756,803) rotate(-90)" class="c">102.5</text>
<line x1="781" y1="766" x2="781" y2="801" class="th" marker-start="url(#a)" marker-end="url(#a)"/><text transform="translate(779,784) rotate(-90)" class="c">52</text>
<line x1="803" y1="767" x2="803" y2="800" class="th" marker-start="url(#a)" marker-end="url(#a)"/><text transform="translate(801,784) rotate(-90)" class="c">50</text>
<line x1="978" y1="815" x2="978" y2="829" class="th" marker-end="url(#a)"/><line x1="978" y1="853" x2="978" y2="839" class="th" marker-end="url(#a)"/><line x1="978" y1="839" x2="978" y2="873" class="th"/>
<text transform="translate(975,862) rotate(-90)" class="c">10</text>
<line x1="868" y1="896" x2="883" y2="896" class="th" marker-end="url(#a)"/><line x1="978" y1="896" x2="929" y2="896" class="th" marker-end="url(#a)"/><text x="960" y="893" class="c">□60</text>
<line x1="844" y1="919" x2="905" y2="919" class="th" marker-start="url(#a)" marker-end="url(#a)"/><text x="875" y="916" class="c">92</text>
<text x="740" y="899" class="c">电容器</text><text x="740" y="922" class="c">仅单相感应马达安装</text><path d="M668,905 L812,905 L838,862" class="th"/>
<rect x="827" y="971.7" width="128" height="31.3" fill="#f2f2f2" stroke="#222" stroke-width="1.4"/>
<path d="M827,1003 L994,1003 Q1000,1030 993,1045 Q989,1065 996,1086 L827,1086 Z" fill="#f2f2f2" stroke="#222" stroke-width="1.4"/>
<line x1="827" y1="1003" x2="994" y2="1003" stroke="#111" stroke-width="2.5"/><line x1="827" y1="1086" x2="996" y2="1086" stroke="#111" stroke-width="2.5"/>
<g class="d"><line x1="844" y1="997" x2="844" y2="1092"/><line x1="861" y1="1004" x2="861" y2="1085"/><line x1="883" y1="1004" x2="883" y2="1085"/><line x1="905" y1="997" x2="905" y2="1092"/><line x1="929" y1="1004" x2="929" y2="1085"/><line x1="883" y1="1031" x2="929" y2="1031"/><line x1="883" y1="1079" x2="929" y2="1079"/></g>
<g class="th"><line x1="827" y1="942" x2="827" y2="972"/><line x1="955" y1="942" x2="955" y2="972"/><line x1="750" y1="972" x2="827" y2="972"/><line x1="772" y1="1003" x2="827" y2="1003"/><line x1="750" y1="1086" x2="827" y2="1086"/></g>
<line x1="827" y1="949" x2="955" y2="949" class="th" marker-start="url(#a)" marker-end="url(#a)"/><text x="891" y="946" class="c">190</text>
<line x1="778" y1="972" x2="778" y2="1003" class="th" marker-start="url(#a)" marker-end="url(#a)"/><text transform="translate(774,987) rotate(-90)" class="c">45</text>
<line x1="755" y1="972" x2="755" y2="1086" class="th" marker-start="url(#a)" marker-end="url(#a)"/><text transform="translate(752,1045) rotate(-90)" class="c">B+50</text>
<line x1="778" y1="1003" x2="778" y2="1086" class="th" marker-start="url(#a)" marker-end="url(#a)"/><text transform="translate(775,1048) rotate(-90)" class="c">B+5</text>
<line x1="804" y1="1005" x2="804" y2="1084" class="th" marker-start="url(#a)" marker-end="url(#a)"/><text transform="translate(800,1045) rotate(-90)" class="c"><tspan class="o">B</tspan>(皮带宽度)</text>
<line x1="964" y1="1005" x2="964" y2="1084" class="th" marker-start="url(#a)" marker-end="url(#a)"/><text transform="translate(960,1041) rotate(-90)" class="c o">A</text>

<!-- 40W -->
<text x="658" y="1139">输出功率：<tspan class="b">40W</tspan></text>
<path d="M844,1222 L995,1222 Q999,1231 995,1240 Q991,1248 995,1257 L844,1257 A17.5,17.5 0 0 1 844,1222 Z" fill="#f2f2f2" stroke="#222" stroke-width="1.8"/>
<g class="th"><line x1="888" y1="1227" x2="995" y2="1227"/><line x1="888" y1="1232" x2="996" y2="1232"/><line x1="888" y1="1237" x2="997" y2="1237"/><line x1="888" y1="1242" x2="996" y2="1242"/><line x1="888" y1="1247" x2="995" y2="1247"/><line x1="888" y1="1252" x2="994" y2="1252"/></g>
<g transform="translate(827,1222)">
<path d="M0,36 L122,36 L122,98 Q122,106 114,106 L8,106 Q0,106 0,98 Z" fill="#f2f2f2" stroke="#222" stroke-width="1.6"/>
<circle cx="8" cy="52" r="2.5" fill="#111"/>
<rect x="46" y="38" width="68" height="66" rx="2" fill="#f2f2f2" stroke="#222" stroke-width="1.2"/>
<ellipse cx="80" cy="71" rx="32" ry="32" fill="#f2f2f2" stroke="#222" stroke-width="1.2"/>
<circle cx="80" cy="60" r="12" class="d"/>
<rect x="12" y="82" width="24" height="15" fill="#fff" stroke="#222" stroke-width="1.2"/>
<line x1="17" y1="18" x2="80" y2="80" class="d"/>
</g>
<use href="#head" x="827" y="1222"/>
<g class="th"><line x1="827" y1="1150" x2="827" y2="1222"/><line x1="844" y1="1150" x2="844" y2="1256"/><line x1="863" y1="1174" x2="863" y2="1226"/><line x1="876" y1="1174" x2="876" y2="1226"/>
<line x1="733" y1="1222" x2="828" y2="1222"/><line x1="778" y1="1257" x2="828" y2="1257"/><line x1="755" y1="1293" x2="982" y2="1293"/><line x1="733" y1="1328" x2="840" y2="1328"/><line x1="940" y1="1306" x2="982" y2="1306"/>
<line x1="873" y1="1326" x2="873" y2="1356"/><line x1="941" y1="1326" x2="941" y2="1356"/><line x1="905" y1="1326" x2="905" y2="1378"/></g>
<line x1="812" y1="1152" x2="827" y2="1152" class="th" marker-end="url(#a)"/><line x1="860" y1="1152" x2="844" y2="1152" class="th" marker-end="url(#a)"/><line x1="844" y1="1152" x2="880" y2="1152" class="th"/><text x="868" y="1150" class="c">26</text>
<line x1="790" y1="1175" x2="844" y2="1175" class="th" marker-end="url(#a)"/><text x="806" y="1173" class="c">28.5</text>
<line x1="876" y1="1175" x2="910" y2="1175" class="th"/><line x1="890" y1="1175" x2="876" y2="1175" class="th" marker-end="url(#a)"/><text x="899" y="1173" class="c">18</text>
<text x="793" y="1197" class="c">Ø50</text><path d="M775,1199 L807,1199 L833,1227" class="th" marker-end="url(#a)"/>
<text x="913" y="1195" class="c">4-M5</text><path d="M933,1198 L893,1198 L880,1226" class="th" marker-end="url(#a)"/>
<line x1="737" y1="1222" x2="737" y2="1328" class="th" marker-start="url(#a)" marker-end="url(#a)"/><text transform="translate(733,1275) rotate(-90)" class="c">159</text>
<line x1="759" y1="1222" x2="759" y2="1293" class="th" marker-start="url(#a)" marker-end="url(#a)"/><text transform="translate(756,1256) rotate(-90)" class="c">110.5</text>
<line x1="781" y1="1222" x2="781" y2="1257" class="th" marker-start="url(#a)" marker-end="url(#a)"/><text transform="translate(779,1239) rotate(-90)" class="c">52</text>
<line x1="803" y1="1223" x2="803" y2="1256" class="th" marker-start="url(#a)" marker-end="url(#a)"/><text transform="translate(801,1239) rotate(-90)" class="c">50</text>
<line x1="978" y1="1293" x2="978" y2="1328" class="th"/><line x1="978" y1="1280" x2="978" y2="1293" class="th" marker-end="url(#a)"/><line x1="978" y1="1340" x2="978" y2="1328" class="th" marker-end="url(#a)"/>
<text transform="translate(975,1318) rotate(-90)" class="c">18</text>
<line x1="858" y1="1352" x2="873" y2="1352" class="th" marker-end="url(#a)"/><line x1="985" y1="1352" x2="941" y2="1352" class="th" marker-end="url(#a)"/><text x="968" y="1348" class="c">□90</text>
<line x1="844" y1="1374" x2="905" y2="1374" class="th" marker-start="url(#a)" marker-end="url(#a)"/><text x="875" y="1371" class="c">92</text>
<text x="740" y="1355" class="c">电容器</text><text x="740" y="1378" class="c">仅单相感应马达安装</text><path d="M668,1361 L812,1361 L838,1318" class="th"/>
<rect x="827" y="1437" width="128" height="33" fill="#f2f2f2" stroke="#222" stroke-width="1.4"/>
<path d="M827,1470 L994,1470 Q1000,1498 993,1514 Q989,1535 996,1556 L827,1556 Z" fill="#f2f2f2" stroke="#222" stroke-width="1.4"/>
<line x1="827" y1="1470" x2="994" y2="1470" stroke="#111" stroke-width="2.5"/><line x1="827" y1="1556" x2="996" y2="1556" stroke="#111" stroke-width="2.5"/>
<g class="d"><line x1="844" y1="1464" x2="844" y2="1562"/><line x1="861" y1="1471" x2="861" y2="1555"/><line x1="873" y1="1471" x2="873" y2="1555"/><line x1="905" y1="1464" x2="905" y2="1562"/><line x1="941" y1="1471" x2="941" y2="1555"/><line x1="873" y1="1498" x2="941" y2="1498"/></g>
<g class="th"><line x1="827" y1="1408" x2="827" y2="1437"/><line x1="955" y1="1408" x2="955" y2="1437"/><line x1="750" y1="1437" x2="827" y2="1437"/><line x1="772" y1="1470" x2="827" y2="1470"/><line x1="750" y1="1556" x2="827" y2="1556"/></g>
<line x1="827" y1="1414" x2="955" y2="1414" class="th" marker-start="url(#a)" marker-end="url(#a)"/><text x="891" y="1412" class="c">190</text>
<line x1="778" y1="1437" x2="778" y2="1470" class="th" marker-start="url(#a)" marker-end="url(#a)"/><text transform="translate(774,1453) rotate(-90)" class="c">45</text>
<line x1="755" y1="1437" x2="755" y2="1556" class="th" marker-start="url(#a)" marker-end="url(#a)"/><text transform="translate(752,1496) rotate(-90)" class="c"><tspan class="o">B</tspan>+50</text>
<line x1="778" y1="1470" x2="778" y2="1556" class="th" marker-start="url(#a)" marker-end="url(#a)"/><text transform="translate(775,1513) rotate(-90)" class="c"><tspan class="o">B</tspan>+5</text>
<line x1="804" y1="1472" x2="804" y2="1554" class="th" marker-start="url(#a)" marker-end="url(#a)"/><text transform="translate(800,1512) rotate(-90)" class="c"><tspan class="o">B</tspan>(皮带宽度)</text>
<line x1="968" y1="1472" x2="968" y2="1554" class="th" marker-start="url(#a)" marker-end="url(#a)"/><text transform="translate(964,1514) rotate(-90)" class="c o">A</text>

<path d="M1028,1512 L1062,1505 L1062,1535 L1028,1528 Z" fill="none" stroke="#333" stroke-width="1"/>
<line x1="1020" y1="1520" x2="1070" y2="1520" class="d"/>
<circle cx="1105" cy="1520" r="14" class="ln"/><circle cx="1105" cy="1520" r="8" class="ln"/>
<line x1="1085" y1="1520" x2="1125" y2="1520" class="th"/><line x1="1105" y1="1500" x2="1105" y2="1540" class="th"/>
<text x="1077" y="1563" class="c" style="font-size:12px">视角标准：第一视角</text>
</svg>
</body></html>
